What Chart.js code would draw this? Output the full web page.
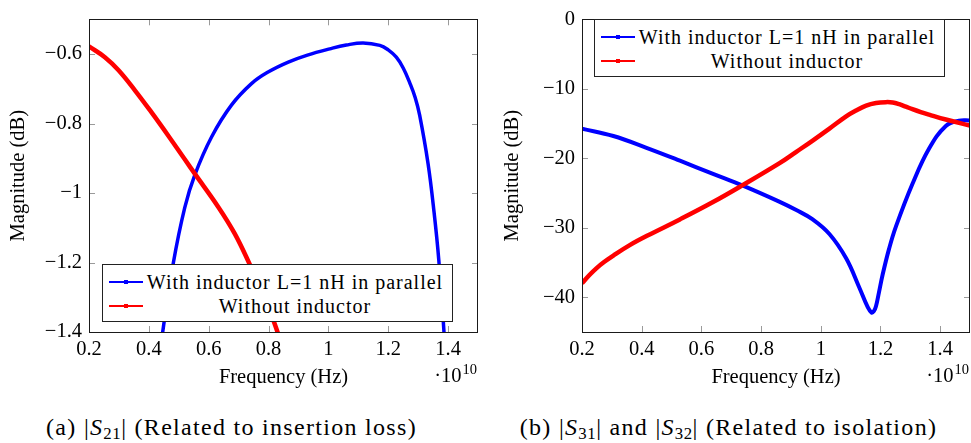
<!DOCTYPE html>
<html>
<head>
<meta charset="utf-8">
<script src="https://cdn.jsdelivr.net/npm/chart.js@4.4.1/dist/chart.umd.min.js"></script>
<style>
html,body{margin:0;padding:0;background:#fff;}
body{width:971px;height:443px;position:relative;overflow:hidden;font-family:"Liberation Serif",serif;color:#000;}
.wrap{position:absolute;top:0;height:400px;}
#wA{left:0;width:490px;}
#wB{left:490px;width:481px;}
canvas{display:block;}
.legend{position:absolute;box-sizing:border-box;border:1px solid #222;background:#fff;width:351px;height:58px;font-size:20px;letter-spacing:1px;}
.lrow{position:absolute;left:0;width:100%;height:24px;}
.lsample{position:absolute;left:6px;width:34px;top:12px;}
.lsample .ln{position:absolute;left:0;width:34px;}
.lsample .mk{position:absolute;left:15px;width:4px;height:4px;}
.ltext{position:absolute;left:44px;width:296px;top:0;height:24px;line-height:24px;display:flex;justify-content:center;white-space:nowrap;}
.cap{position:absolute;top:415px;height:24px;line-height:24px;font-size:24px;letter-spacing:1.3px;text-align:center;white-space:nowrap;}
.cap sub{font-size:0.7em;vertical-align:-0.22em;line-height:0;letter-spacing:0.5px;}
</style>
</head>
<body>
<div class="wrap" id="wA"><canvas id="cA" width="490" height="400"></canvas><div class="legend" id="legA" style="left:102px;top:264px;"></div></div>
<div class="wrap" id="wB"><canvas id="cB" width="481" height="400"></canvas><div class="legend" id="legB" style="left:104px;top:19px;"></div></div>
<div class="cap" style="left:0;width:463px;">(a) |<i>S</i><sub>21</sub>| (Related to insertion loss)</div>
<div class="cap" style="left:486px;width:485px;">(b) |<i>S</i><sub>31</sub>| and |<i>S</i><sub>32</sub>| (Related to isolation)</div>
<script>
// ---------- data (frequency in units of 1e10 Hz, magnitude in dB) ----------
const seriesLabels = ['With inductor L=1 nH in parallel', 'Without inductor'];
const xTickValues = [0.2, 0.4, 0.6, 0.8, 1.0, 1.2, 1.4];
const s21TickValues = [-1.4, -1.2, -1.0, -0.8, -0.6];
const isoTickValues = [-40, -30, -20, -10, 0];

// (a) |S21|
const s21WithFreq = [0.40, 0.42, 0.445, 0.481, 0.52, 0.554, 0.61, 0.676, 0.743, 0.80, 0.866, 0.93, 1.005, 1.06, 1.116, 1.172, 1.20, 1.227, 1.25, 1.272, 1.29, 1.305, 1.333, 1.353, 1.369, 1.386, 1.40];
const s21WithMag  = [-1.74, -1.58, -1.408, -1.205, -1.042, -0.947, -0.838, -0.747, -0.685, -0.651, -0.623, -0.603, -0.585, -0.574, -0.568, -0.575, -0.588, -0.609, -0.640, -0.683, -0.725, -0.776, -0.915, -1.054, -1.193, -1.396, -1.62];
const s21WithoutFreq = [0.2, 0.253, 0.298, 0.354, 0.409, 0.465, 0.52, 0.554, 0.632, 0.687, 0.738, 0.788, 0.83, 0.88, 0.95];
const s21WithoutMag  = [-0.578, -0.609, -0.646, -0.705, -0.768, -0.835, -0.903, -0.945, -1.040, -1.117, -1.207, -1.302, -1.400, -1.53, -1.72];

// (b) |S31| and |S32|
const isoWithFreq = [0.2, 0.305, 0.416, 0.528, 0.639, 0.737, 0.859, 0.918, 0.973, 1.029, 1.085, 1.129, 1.157, 1.17, 1.178, 1.185, 1.195, 1.207, 1.229, 1.252, 1.307, 1.363, 1.419, 1.463, 1.5];
const isoWithMag  = [-15.75, -16.8, -18.5, -20.35, -22.25, -23.9, -26.2, -27.45, -28.8, -30.9, -34.4, -38.6, -41.4, -42.2, -42.0, -41.3, -39.3, -36.8, -33.0, -29.8, -23.7, -18.6, -15.35, -14.6, -14.55];
const isoWithoutFreq = [0.2, 0.225, 0.249, 0.275, 0.305, 0.36, 0.416, 0.528, 0.639, 0.737, 0.862, 0.918, 0.973, 1.029, 1.085, 1.118, 1.152, 1.185, 1.218, 1.241, 1.263, 1.285, 1.307, 1.335, 1.363, 1.419, 1.5];
const isoWithoutMag  = [-38.0, -36.8, -35.8, -34.9, -34.0, -32.5, -31.2, -28.8, -26.3, -23.9, -20.7, -19.07, -17.45, -15.73, -13.96, -13.12, -12.42, -12.05, -11.92, -11.97, -12.22, -12.57, -12.93, -13.35, -13.72, -14.42, -15.3];

// ---------- helpers ----------
const FONT = '"Liberation Serif", serif';
const toXY = (xs, ys) => xs.map((x, i) => ({x: x, y: ys[i]}));
const fmtNum = v => {
  const a = Math.abs(+v.toFixed(3));
  return (v < -1e-9 ? '\u2212' : '') + String(a);
};

function buildLegend(el) {
  const colors = ['#0000ff', '#ff0000'];
  const widths = [1.2, 1.8];
  seriesLabels.forEach((lab, i) => {
    const row = document.createElement('div');
    row.className = 'lrow';
    row.style.top = (i === 0 ? 5 : 29) + 'px';
    const s = document.createElement('div');
    s.className = 'lsample';
    const ln = document.createElement('div');
    ln.className = 'ln';
    ln.style.height = widths[i] + 'px';
    ln.style.top = (-widths[i] / 2) + 'px';
    ln.style.background = colors[i];
    const mk = document.createElement('div');
    mk.className = 'mk';
    mk.style.top = '-2px';
    mk.style.background = colors[i];
    s.appendChild(ln); s.appendChild(mk);
    const t = document.createElement('div');
    t.className = 'ltext';
    t.textContent = lab;
    row.appendChild(s); row.appendChild(t);
    el.appendChild(row);
  });
}

const framePlugin = {
  id: 'pgfFrame',
  afterDatasetsDraw(chart) {
    const {ctx, chartArea: a, scales} = chart;
    const xs = scales.x, ys = scales.y;
    ctx.save();
    ctx.lineWidth = 1;
    ctx.strokeStyle = '#9a9a9a';
    ctx.beginPath();
    const L = 6;
    xs.ticks.forEach(t => {
      const px = Math.round(xs.getPixelForValue(t.value)) + 0.5;
      ctx.moveTo(px, a.bottom); ctx.lineTo(px, a.bottom - L);
      ctx.moveTo(px, a.top); ctx.lineTo(px, a.top + L);
    });
    ys.ticks.forEach(t => {
      const py = Math.round(ys.getPixelForValue(t.value)) + 0.5;
      ctx.moveTo(a.left, py); ctx.lineTo(a.left + L, py);
      ctx.moveTo(a.right, py); ctx.lineTo(a.right - L, py);
    });
    ctx.stroke();
    ctx.strokeStyle = '#1a1a1a';
    ctx.strokeRect(Math.round(a.left) + 0.5, Math.round(a.top) + 0.5, Math.round(a.right - a.left) - 1, Math.round(a.bottom - a.top));
    // axis multiplier  ·10^10
    ctx.fillStyle = '#000';
    ctx.textAlign = 'right';
    ctx.textBaseline = 'alphabetic';
    ctx.font = '14.5px ' + FONT;
    ctx.fillText('10', a.right - 1, a.bottom + 42);
    const w = ctx.measureText('10').width;
    ctx.font = '20.5px ' + FONT;
    ctx.fillText('\u00b710', a.right - 2 - w, a.bottom + 50);
    ctx.restore();
  }
};

function makeChart(id, cfg) {
  const font = {family: FONT, size: 20.5};
  return new Chart(document.getElementById(id), {
    type: 'line',
    data: {
      datasets: [
        {label: seriesLabels[0], data: toXY(cfg.bx, cfg.by), borderColor: '#0000ff', backgroundColor: '#0000ff', borderWidth: cfg.bw, order: 1, clip: 0},
        {label: seriesLabels[1], data: toXY(cfg.rx, cfg.ry), borderColor: '#ff0000', backgroundColor: '#ff0000', borderWidth: cfg.rw, order: 0, clip: 0}
      ]
    },
    options: {
      responsive: false,
      animation: false,
      devicePixelRatio: 1,
      layout: {padding: {left: 0, top: 10, right: cfg.padRight, bottom: 0}},
      plugins: {legend: {display: false}, tooltip: {enabled: false}},
      elements: {
        point: {radius: 0, hoverRadius: 0},
        line: {tension: 0.4, fill: false, borderCapStyle: 'butt', borderJoinStyle: 'round'}
      },
      scales: {
        x: {
          type: 'linear', min: 0.2, max: 1.5,
          grid: {display: false, drawTicks: false}, border: {display: false},
          afterBuildTicks: s => { s.ticks = xTickValues.map(v => ({value: v})); },
          afterFit: s => { s.height = 68; },
          ticks: {font: font, color: '#000', padding: 5.3, maxRotation: 0, autoSkip: false, callback: v => fmtNum(v)},
          title: {display: true, text: 'Frequency (Hz)', font: font, color: '#000', padding: {top: 0, bottom: 9.7}}
        },
        y: {
          type: 'linear', min: cfg.ymin, max: cfg.ymax,
          grid: {display: false, drawTicks: false}, border: {display: false},
          afterBuildTicks: s => { s.ticks = cfg.yt.map(v => ({value: v})); },
          afterFit: s => { s.width = cfg.yW; },
          ticks: {font: font, color: '#000', padding: 7, autoSkip: false, callback: v => fmtNum(v)},
          title: {display: true, text: 'Magnitude (dB)', font: font, color: '#000', padding: {top: cfg.yTitlePad, bottom: 0}}
        }
      }
    },
    plugins: [framePlugin]
  });
}

makeChart('cA', {bx: s21WithFreq, by: s21WithMag, rx: s21WithoutFreq, ry: s21WithoutMag,
  bw: 3.5, rw: 4.5, ymin: -1.4, ymax: -0.5, yt: s21TickValues, yW: 89, padRight: 12, yTitlePad: 6.2});
makeChart('cB', {bx: isoWithFreq, by: isoWithMag, rx: isoWithoutFreq, ry: isoWithoutMag,
  bw: 4, rw: 4.5, ymin: -45, ymax: 0, yt: isoTickValues, yW: 92, padRight: 1, yTitlePad: 10.7});
buildLegend(document.getElementById('legA'));
buildLegend(document.getElementById('legB'));
</script>
</body>
</html>
